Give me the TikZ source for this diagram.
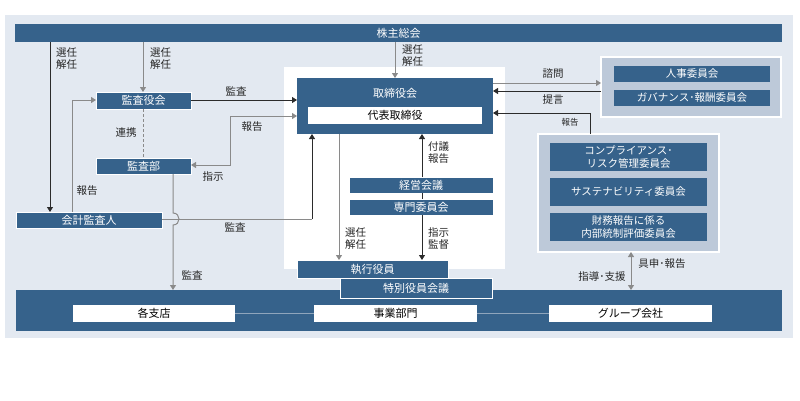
\documentclass[tikz,border=0pt]{standalone}
\usepackage{fontspec}
\setmainfont{Noto Sans CJK JP}
\usetikzlibrary{arrows.meta}
\definecolor{dblue}{HTML}{36628B}
\definecolor{lbg}{HTML}{E3E9F1}
\definecolor{gbg}{HTML}{BDC9D9}
\definecolor{dline}{HTML}{2B2B2B}
\definecolor{gline}{HTML}{8A8A8A}
\definecolor{linkc}{HTML}{8FA5BC}
\tikzset{
  boxbase/.style={inner sep=0pt, outer sep=0pt, anchor=north west, align=center},
  dbox/.style={boxbase, fill=dblue, draw=white, line width=0.5pt, text=white, font=\fontsize{11}{13}\selectfont},
  cbox/.style={boxbase, fill=dblue, text=white, font=\fontsize{10.5}{13.5}\selectfont},
  wbox/.style={boxbase, fill=white, text=black, font=\fontsize{11}{13}\selectfont},
  grp/.style={boxbase, fill=gbg, draw=white, line width=1.5pt},
  lbl/.style={inner sep=0pt, align=left, text=black!85, font=\fontsize{10.5}{12.5}\selectfont},
  slbl/.style={inner sep=0pt, text=black!85, font=\fontsize{8.5}{10}\selectfont},
  tip/.style={-{Triangle[length=5pt,width=6pt]}},
  dl/.style={draw=dline, line width=0.8pt},
  gl/.style={draw=gline, line width=1pt},
}
\begin{document}
\begin{tikzpicture}[x=1pt,y=-1pt]
\useasboundingbox (0,0) rectangle (800,400);
% backgrounds
\fill[lbg] (5,15) rectangle (793,338);
\fill[white] (284,67) rectangle (505,269);
% top bar
\node[dbox, draw=none, minimum width=767, minimum height=18] (top) at (15,24) {株主総会};
% board
\node[dbox, draw=none, minimum width=196, minimum height=56] (tori) at (297,78) {};
\node[text=white, font=\fontsize{11}{13}\selectfont, inner sep=0pt] (torilbl) at (395,93) {取締役会};
\node[wbox, minimum width=174, minimum height=17] (daihyo) at (308,107) {代表取締役};
% audit side
\node[dbox, minimum width=95, minimum height=17] (kyaku) at (96,92) {監査役会};
\node[dbox, minimum width=95, minimum height=16] (kbu) at (96,158) {監査部};
\node[dbox, minimum width=146, minimum height=16] (kaikei) at (16,212) {会計監査人};
% exec
\node[dbox, minimum width=144, minimum height=16] (keiei) at (349,177) {経営会議};
\node[dbox, minimum width=144, minimum height=16] (senmon) at (349,199) {専門委員会};
% bottom bar
\node[dbox, draw=none, minimum width=766, minimum height=41] (bottom) at (16,290) {};
\node[dbox, minimum width=151, minimum height=18] (shikko) at (297,260) {執行役員};
\node[dbox, minimum width=152, minimum height=20] (tokubetsu) at (340,278) {特別役員会議};
\node[wbox, minimum width=162, minimum height=17] (shiten) at (73,305) {各支店};
\node[wbox, minimum width=163, minimum height=17] (jigyo) at (314,305) {事業部門};
\node[wbox, minimum width=163, minimum height=17] (group) at (549,305) {グループ会社};
\draw[linkc, line width=0.8pt] (shiten.east) -- (jigyo.west);
\draw[linkc, line width=0.8pt] (jigyo.east) -- (group.west);
% committees group 1
\node[grp, minimum width=180, minimum height=60] (g1) at (601,57) {};
\node[cbox, minimum width=156, minimum height=16] (jinji) at (614,66) {人事委員会};
\node[cbox, minimum width=156, minimum height=16] (gov) at (614,90) {ガバナンス･報酬委員会};
% committees group 2
\node[grp, minimum width=181, minimum height=118] (g2) at (538,134) {};
\node[cbox, minimum width=157, minimum height=28] (c1) at (550,143) {コンプライアンス･\\リスク管理委員会};
\node[cbox, minimum width=157, minimum height=28] (c2) at (550,178) {サステナビリティ委員会};
\node[cbox, minimum width=157, minimum height=28] (c3) at (550,213) {財務報告に係る\\内部統制評価委員会};
% coordinates
\coordinate (a1) at (50,42);
\coordinate (a2) at (143,42);
\coordinate (a3) at (395,42);
% arrows from shareholders
\draw[dl, tip] (a1) -- (a1 |- kaikei.north);
\node[lbl, anchor=north west] at (56,47) {選任\\解任};
\draw[gl, tip] (a2) -- (a2 |- kyaku.north);
\node[lbl, anchor=north west] at (150,47) {選任\\解任};
\draw[gl, tip] (a3) -- (a3 |- tori.north);
\node[lbl, anchor=north west] at (402,44) {選任\\解任};
% kansayaku -> tori
\coordinate (k1) at (191,100);
\draw[dl, tip] (kyaku.east |- k1) -- (tori.west |- k1);
\node[lbl] at (236,91) {監査};
% kaikei -> kansayaku
\coordinate (k2) at (72,100);
\draw[gl, tip] (kaikei.north -| k2) -- (k2) -- (kyaku.west |- k2);
\node[lbl] at (87,191) {報告};
% kansabu <-> tori
\coordinate (k3) at (230,116);
\coordinate (k4) at (230,165);
\draw[gl, tip] (k3) -- (tori.west |- k3);
\draw[gl, tip] (k3) -- (k4) -- (kbu.east |- k4);
\node[lbl] at (252,127) {報告};
\node[lbl] at (213,177) {指示};
% dashed link
\draw[gl, dashed, dash pattern=on 3pt off 2pt] (kyaku.south) -- (kbu.north);
\node[lbl] at (126,133) {連携};
% kaikei -> tori
\coordinate (k5) at (312,219);
\draw[gl] (kaikei.east |- k5) -- (k5);
\draw[dl, tip] (k5) -- (tori.south -| k5);
\node[lbl] at (235,227) {監査};
% kansabu -> bottom with jump
\coordinate (j1) at (173,213);
\coordinate (j2) at (173,225);
\draw[gl, tip] (kbu.south -| j1) -- (j1) .. controls (181,213) and (181,225) .. (j2) -- (bottom.north -| j2);
\node[lbl] at (192,275) {監査};
% tori -> shikko
\coordinate (e1) at (339,134);
\draw[gl, tip] (e1) -- (shikko.north -| e1);
\node[lbl, anchor=north west] at (345,227) {選任\\解任};
% keiei -> tori
\coordinate (e2) at (422,180);
\draw[dl, tip] (keiei.north -| e2) -- (tori.south -| e2);
\node[lbl, anchor=north west] at (428,141) {付議\\報告};
\draw[dl] (keiei.south -| e2) -- (senmon.north -| e2);
\draw[dl, tip] (senmon.south -| e2) -- (shikko.north -| e2);
\node[lbl, anchor=north west] at (428,227) {指示\\監督};
% committees 1
\coordinate (r1) at (493,83);
\coordinate (r2) at (493,91);
\draw[gl, tip] (tori.east |- r1) -- (g1.west |- r1);
\node[lbl] at (553,74) {諮問};
\draw[dl, tip] (g1.west |- r2) -- (tori.east |- r2);
\node[lbl] at (553,100) {提言};
% committees 2 report
\coordinate (r3) at (590,113);
\draw[dl, tip] (g2.north -| r3) -- (r3) -- (tori.east |- r3);
\node[slbl] at (570,122) {報告};
% double arrow
\coordinate (r4) at (631,260);
\draw[gl, {Triangle[length=5pt,width=6pt]}-{Triangle[length=5pt,width=6pt]}] (g2.south -| r4) -- (bottom.north -| r4);
\node[lbl] at (662,264) {具申･報告};
\node[lbl] at (602,277) {指導･支援};
\end{tikzpicture}
\end{document}
